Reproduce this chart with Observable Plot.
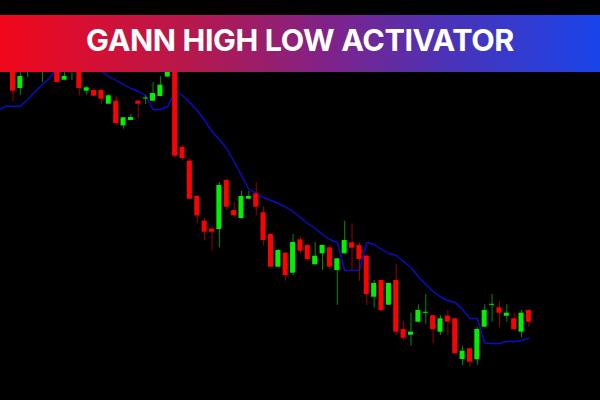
<!DOCTYPE html>
<html>
<head>
<meta charset="utf-8">
<script src="https://cdn.jsdelivr.net/npm/d3@7"></script>
<script src="https://cdn.jsdelivr.net/npm/@observablehq/plot@0.6"></script>
<style>
  html, body { margin: 0; padding: 0; background: #000; width: 600px; height: 400px; overflow: hidden; }
  #wrap { position: relative; width: 600px; height: 400px; background: #000; }
  #chart svg { display: block; }
  #banner {
    position: absolute; left: 0; top: 15px; width: 600px; height: 57px;
    background: linear-gradient(90deg, #f2071b 0%, #b3194f 33%, #7e238a 55%, #4a33b8 75%, #1a44ea 100%);
    display: flex; justify-content: center; align-items: flex-start;
  }
  #banner span {
    font-family: "Inter", "Open Sans", sans-serif; font-weight: 700; font-size: 30.5px;
    color: #fff; line-height: 31px; margin-top: 9px; letter-spacing: -0.4px;
  }
</style>
</head>
<body>
<div id="wrap">
  <div id="chart"></div>
  <div id="banner"><span>GANN HIGH LOW ACTIVATOR</span></div>
</div>
<script>
// Candle OHLC values (price units), one per bar, index 0..70
const opens  = [340,312,332,336,330,352,342,320.3,330,336,309.3,310,310,296.3,299.3,274.7,280,299.3,301.5,299.3,304,323.5,342,253,239.3,204,179.3,171.3,171,220,190,182,201.3,206.7,187.7,166,133.3,147.3,127.3,160.7,155,135.7,146.7,152.7,130,146.7,157.7,155,144.3,103.3,120,95.3,120,71,65.3,78.3,87.2,84.7,68.3,84.3,81.7,41,51.7,40.7,73.3,95.2,92.7,84.3,81.7,68.3,90];
const highs  = [350,334,348,354,350,358,350,331,344,342,314,312,311,306,304.7,283,286,300,304.7,318,323.7,340,348,255.3,242,205,182.3,174.3,218,221,198.3,209.3,209,217.7,193.3,167,151,148,166,163.3,155.5,158,155.5,155.3,142,179.3,176.7,157.7,145,120,120.5,117.5,136,79,87.3,95.7,106,85,84.7,90,82,54.3,52,72.7,95.7,106,98.3,95.7,87.3,90,90.5];
const lows   = [299,305,323,327.5,318,332,317,320,320,304.5,305,304,296.3,296,274.7,271.3,279.5,282,296,299,303.5,323,242,239.3,201,176.7,160,149.3,152.7,190,182.3,181.5,201,184.7,154.7,133,133,119.3,125,146.7,138.3,135.5,130,130.7,95,146.5,130,119.3,95,92.3,89.5,95,65,60,54.3,78,76.3,56.7,65,65,46.5,35,32.7,35,73,78.3,73.3,78.3,70.5,62.7,73.3];
const closes = [309.3,324,342,348,344,338,318,324,338,312,312.7,304.3,301.3,304.7,277,282.7,283,296.3,302.5,307,315.3,334,244.3,242,201.3,184.7,168.3,168.3,215,193.3,184.7,204,204,193.3,160,133.3,150,125,158,149.3,141,144.3,155,133.3,141.7,160,152.3,141,106,117,89.7,117,68.3,62.3,68.3,90,88.2,70.7,81.7,78.3,46.7,49.3,38.3,71,90,96.2,87.3,87.3,70.7,87.3,78.3];
// Gann High Low Activator line, bars -2..70
const gannStart = -2;
const gann = [290,294.3,294.3,294.3,301,309,316,323,332,338,342,342,340,337,329,324,320,316,312,309,305,291,291,294,309.5,305,298,290,280,269,261,252,239,225,211,207,203,200,197,193.3,189,183,177,172,166,161,158,130,130,130,158,156,151,147,145,139,133,124,116,109,103.5,100,98,91,82,82,57.5,57,57,59,59,60,62];

const colors = { bodyUp: "#00f000", bodyDown: "#ff0000", wickUp: "#0a8a0a", wickDown: "#9a0000", line: "#0c0cd0" };

const candles = opens.map((o, i) => ({ i, o, h: highs[i], l: lows[i], c: closes[i], up: closes[i] >= o }));
const gannPts = gann.map((v, k) => ({ i: k + gannStart, v }));

const chart = Plot.plot({
  width: 600,
  height: 400,
  margin: 0,
  style: { background: "#000" },
  x: { type: "linear", domain: [-1.696, 79.71], axis: null },
  y: { type: "linear", domain: [0, 400], axis: null },
  color: { type: "identity" },
  marks: [
    Plot.line(gannPts, { x: "i", y: "v", stroke: colors.line, strokeWidth: 1.4, curve: "linear" }),
    Plot.ruleX(candles, { x: "i", y1: "l", y2: "h", stroke: d => d.up ? colors.wickUp : colors.wickDown, strokeWidth: 1 }),
    Plot.rect(candles, {
      x1: d => d.i - 0.34, x2: d => d.i + 0.34,
      y1: d => Math.min(d.o, d.c), y2: d => Math.max(d.o, d.c),
      fill: d => d.up ? colors.bodyUp : colors.bodyDown
    })
  ]
});
document.getElementById("chart").appendChild(chart);
</script>
</body>
</html>
